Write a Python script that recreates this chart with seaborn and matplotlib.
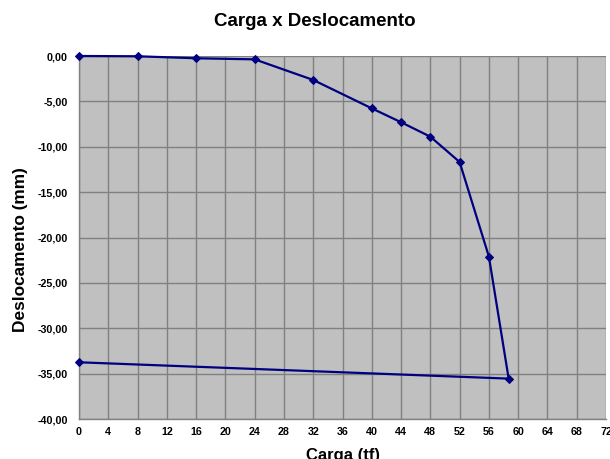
import matplotlib
matplotlib.use("Agg")
import matplotlib.pyplot as plt
import seaborn as sns
import pandas as pd

carga = [0, 8, 16, 24, 32, 40, 44, 48, 52, 56, 58.7, 0]
deslocamento = [0.0, -0.03, -0.25, -0.37, -2.64, -5.77, -7.3, -8.89, -11.68, -22.1, -35.55, -33.75]
x_ticks = list(range(0, 73, 4))
y_ticks = [0, -5, -10, -15, -20, -25, -30, -35, -40]

df = pd.DataFrame({"Carga": carga, "Desloc": deslocamento})

sns.set_style("white")
plt.rcParams['font.family'] = ['Liberation Sans', 'DejaVu Sans']
plt.rcParams['text.color'] = 'black'
plt.rcParams['axes.labelcolor'] = 'black'

fig = plt.figure(figsize=(6.10, 4.59), dpi=100)
ax = fig.add_axes([79/610, 1-419/459, (606-79)/610, (419-56)/459])
ax.set_facecolor("#C0C0C0")

sns.lineplot(data=df, x="Carga", y="Desloc", sort=False, estimator=None,
             color="#000080", linewidth=1.6, marker="D", markersize=4.5,
             markeredgecolor="#000080", ax=ax, zorder=3, clip_on=False)

ax.set_xlim(0, 72)
ax.set_ylim(-40, 0)
ax.set_xticks(x_ticks)
ax.set_xticklabels([str(t) for t in x_ticks])
ax.set_yticks(y_ticks)
ax.set_yticklabels([f"{t:.2f}".replace(".", ",") for t in y_ticks])
ax.grid(True, color="#808080", linewidth=1.0)
ax.set_axisbelow(True)
for s in ["top", "right"]:
    ax.spines[s].set_visible(False)
for s in ["left", "bottom"]:
    ax.spines[s].set_color("#808080")
    ax.spines[s].set_linewidth(1.0)
ax.tick_params(axis="both", labelsize=7.7, labelcolor="black", length=4, width=1)
ax.tick_params(axis="y", color="#808080", length=5, pad=3)
ax.tick_params(axis="x", length=0, pad=6)
for lab in ax.get_xticklabels() + ax.get_yticklabels():
    lab.set_fontweight("bold")

ax.set_xlabel("Carga (tf)", fontsize=12, fontweight="bold", labelpad=8)
ax.set_ylabel("Deslocamento (mm)", fontsize=12.4, fontweight="bold")
ax.yaxis.set_label_coords(28/610, 1-250/459, transform=fig.transFigure)
fig.text(315/610, 1-22/459, "Carga x Deslocamento", ha="center", va="center",
         fontsize=13.5, fontweight="bold", color="black")

fig.savefig("out.png", dpi=100, facecolor="white")
